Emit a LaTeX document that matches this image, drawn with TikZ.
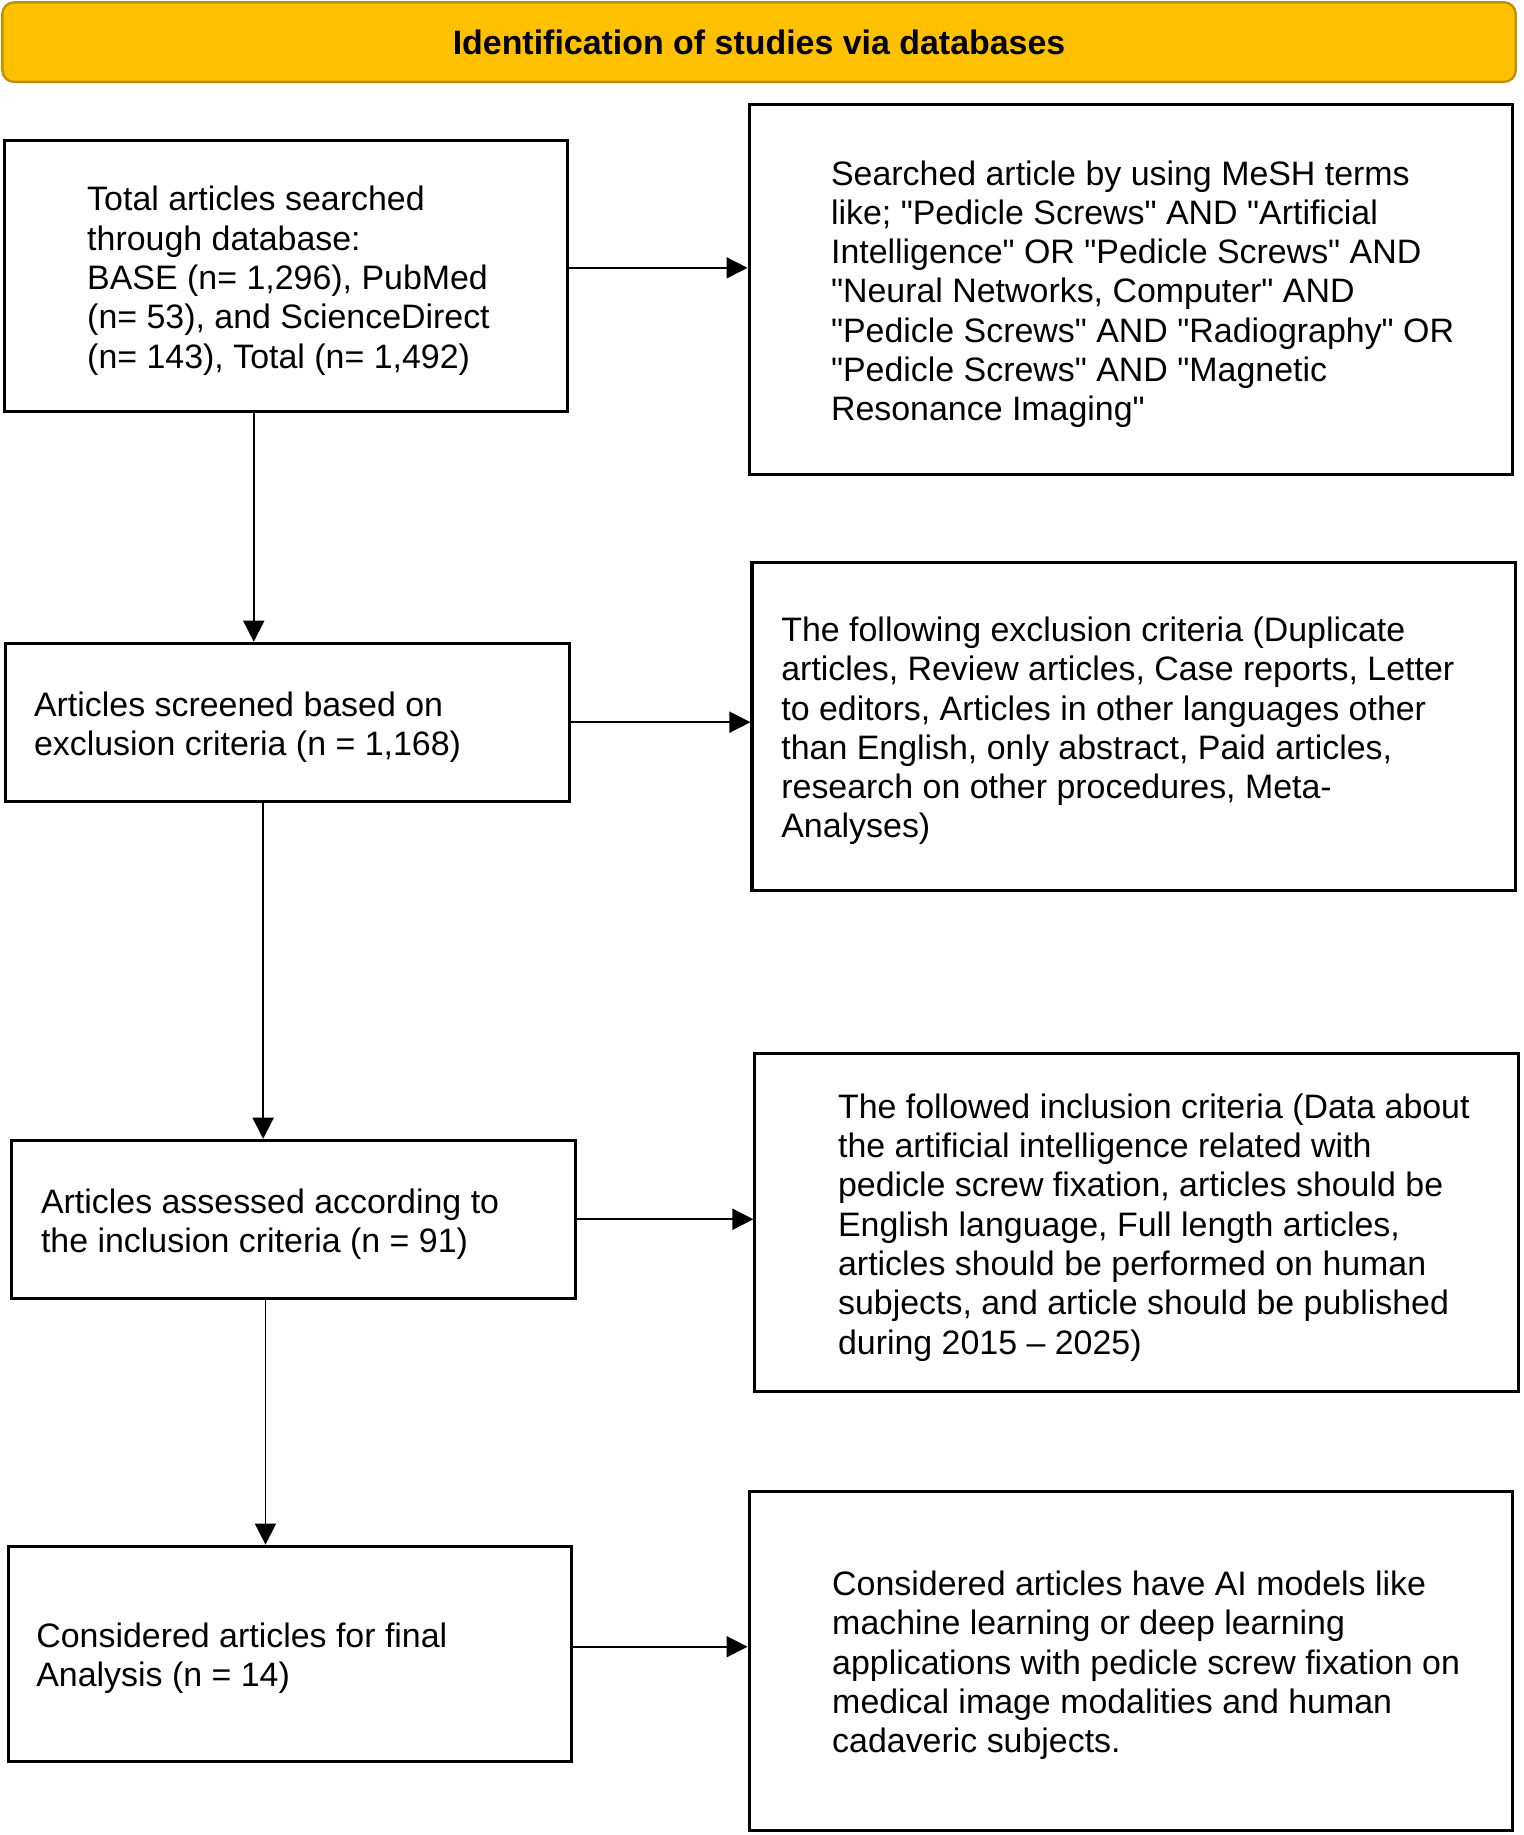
\documentclass[tikz,border=0pt]{standalone}
\usepackage{fontspec}
\setmainfont{Liberation Sans}
\usepackage{tikz}
\usetikzlibrary{arrows.meta}
\definecolor{headgold}{HTML}{FFC000}
\definecolor{headedge}{HTML}{BF9000}
\newcommand{\dq}{\textquotedbl}

\begin{document}
\begin{tikzpicture}[x=5pt,y=5pt]
\tikzstyle{every node}+=[inner sep=0pt]
\tikzstyle{box}=[draw=black, line width=1.3pt, minimum width=241pt]
\tikzstyle{sidebox}=[draw=black, line width=1.3pt, minimum width=326.5pt]
\tikzstyle{txt}=[anchor=west, align=left, yshift=-2pt, font=\fontsize{14.5}{16.8}\selectfont]
\tikzstyle{flow}=[line width=0.7pt, -{Triangle[length=9pt,width=9pt]}]
\useasboundingbox (0,0) rectangle (130.3,-156.9);
% header bar
\node [draw=headedge, fill=headgold, line width=1pt, rounded corners=5pt, minimum width=647pt, minimum height=34pt, font=\bfseries\fontsize{14.5}{16.8}\selectfont] (head) at (64.9,-3.6) {Identification of studies via databases};
% left column
\node [box, minimum height=116pt] (search) at (24.45,-23.6) {};
\node [txt] (search-t) at ([xshift=36pt]search.west) {Total articles searched\\through database:\\BASE (n= 1,296), PubMed\\(n= 53), and ScienceDirect\\(n= 143), Total (n= 1,492)};
\node [box, minimum height=67.5pt] (screen) at (24.6,-61.75) {};
\node [txt] (screen-t) at ([xshift=12.5pt]screen.west) {Articles screened based on\\exclusion criteria (n = 1,168)};
\node [box, minimum height=67.5pt] (assess) at (25.1,-104.25) {};
\node [txt] (assess-t) at ([xshift=13pt]assess.west) {Articles assessed according to\\the inclusion criteria (n = 91)};
\node [box, minimum height=92pt] (final) at (24.8,-141.4) {};
\node [txt] (final-t) at ([xshift=12.5pt]final.west) {Considered articles for final\\Analysis (n = 14)};
% right column
\node [sidebox, minimum height=158.5pt] (mesh) at (96.7,-24.75) {};
\node [txt] (mesh-t) at ([xshift=35.5pt]mesh.west) {Searched article by using MeSH terms\\like; \dq Pedicle Screws\dq{} AND \dq Artificial\\Intelligence\dq{} OR \dq Pedicle Screws\dq{} AND\\\dq Neural Networks, Computer\dq{} AND\\\dq Pedicle Screws\dq{} AND \dq Radiography\dq{} OR\\\dq Pedicle Screws\dq{} AND \dq Magnetic\\Resonance Imaging\dq};
\node [sidebox, minimum height=140pt] (exclude) at (96.95,-62.1) {};
\node [txt] (exclude-t) at ([xshift=13pt]exclude.west) {The following exclusion criteria (Duplicate\\articles, Review articles, Case reports, Letter\\to editors, Articles in other languages other\\than English, only abstract, Paid articles,\\research on other procedures, Meta-\\Analyses)};
\node [sidebox, minimum height=144.5pt] (include) at (97.2,-104.55) {};
\node [txt] (include-t) at ([xshift=36pt]include.west) {The followed inclusion criteria (Data about\\the artificial intelligence related with\\pedicle screw fixation, articles should be\\English language, Full length articles,\\articles should be performed on human\\subjects, and article should be published\\during 2015 -- 2025)};
\node [sidebox, minimum height=145pt] (models) at (96.7,-142) {};
\node [txt] (models-t) at ([xshift=36pt]models.west) {Considered articles have AI models like\\machine learning or deep learning\\applications with pedicle screw fixation on\\medical image modalities and human\\cadaveric subjects.};
% arrows down
\coordinate (d1) at ([xshift=-13.75pt]search.south);
\draw [flow] (d1) -- (d1 |- screen.north);
\coordinate (d2) at ([xshift=-10.5pt]screen.south);
\draw [flow] (d2) -- (d2 |- assess.north);
\coordinate (d3) at ([xshift=-12pt]assess.south);
\draw [flow] (d3) -- (d3 |- final.north);
% arrows right
\draw [flow] ([yshift=3.5pt]search.east) -- ([yshift=3.5pt]search.east -| mesh.west);
\draw [flow] (screen.east) -- (screen.east -| exclude.west);
\draw [flow] (assess.east) -- (assess.east -| include.west);
\draw [flow] ([yshift=3pt]final.east) -- ([yshift=3pt]final.east -| models.west);
\end{tikzpicture}
\end{document}
